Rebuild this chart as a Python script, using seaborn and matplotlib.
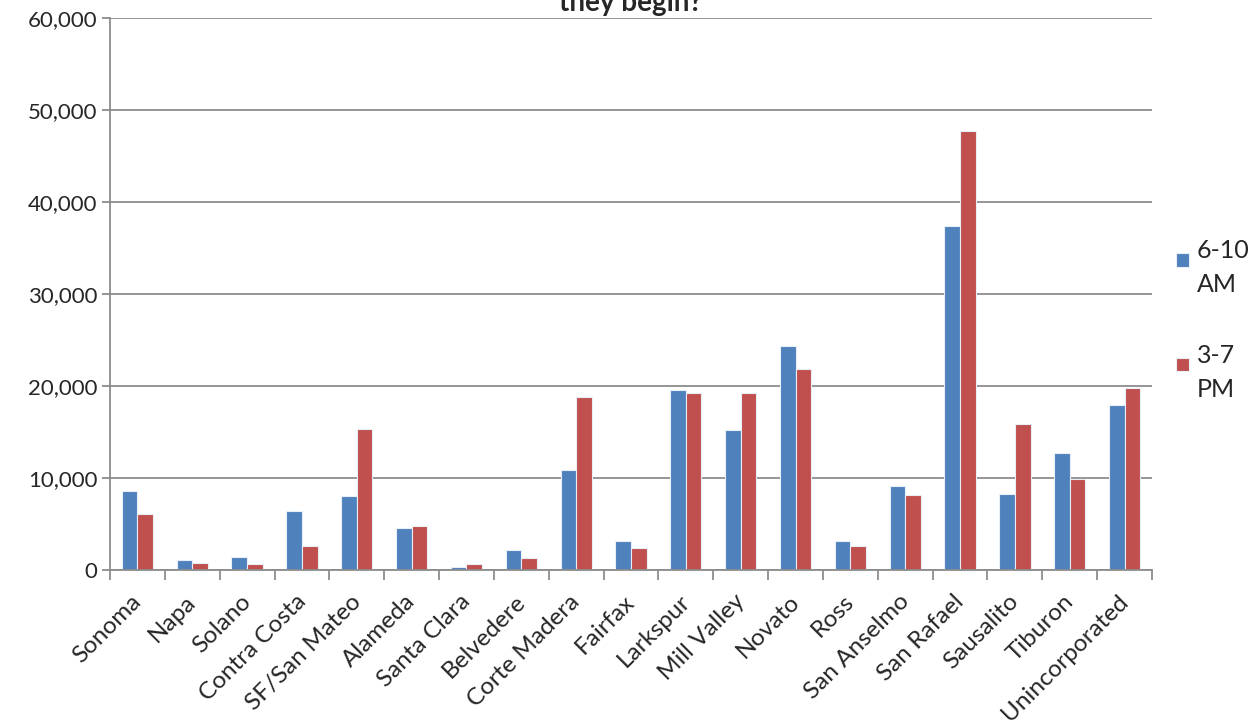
import matplotlib
matplotlib.use("Agg")
import matplotlib.pyplot as plt
import matplotlib.transforms as mtransforms
import seaborn as sns
import pandas as pd
import numpy as np
from matplotlib.ticker import FuncFormatter, FixedLocator
from matplotlib.patches import Rectangle
from matplotlib.legend_handler import HandlerPatch

places = ['Sonoma', 'Napa', 'Solano', 'Contra Costa', 'SF/San Mateo', 'Alameda',
          'Santa Clara', 'Belvedere', 'Corte Madera', 'Fairfax', 'Larkspur',
          'Mill Valley', 'Novato', 'Ross', 'San Anselmo', 'San Rafael',
          'Sausalito', 'Tiburon', 'Unincorporated']
am_trips = [8600, 1100, 1450, 6400, 8000, 4600, 300, 2200, 10900, 3100, 19600,
            15200, 24300, 3200, 9100, 37400, 8300, 12700, 17900]
pm_trips = [6100, 800, 700, 2600, 15300, 4800, 600, 1300, 18800, 2400, 19200,
            19200, 21900, 2600, 8150, 47700, 15900, 9900, 19800]
periods = ['6-10\nAM', '3-7\nPM']

df = pd.DataFrame({
    'place': places * 2,
    'trips': am_trips + pm_trips,
    'period': [periods[0]] * len(places) + [periods[1]] * len(places),
})

sns.set_style('white')
plt.rcParams['font.family'] = ['Lato', 'DejaVu Sans']

fig = plt.figure(figsize=(12.6, 7.24), dpi=100)
ax = fig.add_axes([110 / 1260, 1 - 570 / 724, 1042 / 1260, 552 / 724])

sns.barplot(data=df, x='place', y='trips', hue='period', order=places,
            hue_order=periods, palette=['#4F81BD', '#C0504D'], saturation=1,
            width=0.57, edgecolor='#e8eef5', linewidth=0.8, ax=ax, legend=True)

ax.set_ylim(0, 60000)
ax.set_xlim(-0.5, len(places) - 0.5)
ax.set_yticks(np.arange(0, 60001, 10000))
ax.yaxis.set_major_formatter(FuncFormatter(lambda v, p: f'{int(v):,}'))
ax.grid(axis='y', color='#8c8c8c', linewidth=1.3)
ax.set_axisbelow(True)
ax.set_xlabel('')
ax.set_ylabel('')

for side in ['top', 'right']:
    ax.spines[side].set_visible(False)
for side in ['left', 'bottom']:
    ax.spines[side].set_color('#8c8c8c')
    ax.spines[side].set_linewidth(1.3)

ax.tick_params(axis='y', labelsize=16, length=6, color='#8c8c8c', width=1.3,
               left=True, pad=3)
ax.xaxis.set_minor_locator(FixedLocator(np.arange(-0.5, len(places), 1)))
ax.tick_params(axis='x', which='major', length=0, labelsize=17.5, pad=15)
ax.tick_params(axis='x', which='minor', length=7, color='#8c8c8c', width=1.3,
               bottom=True)
shift = mtransforms.ScaledTranslation(-7 / 100, 0, fig.dpi_scale_trans)
for lbl in ax.get_xticklabels():
    lbl.set_rotation(45)
    lbl.set_ha('right')
    lbl.set_rotation_mode('anchor')
    lbl.set_transform(lbl.get_transform() + shift)


def top_square(legend, orig_handle, xdescent, ydescent, width, height, fontsize):
    s = 0.55 * fontsize
    return Rectangle((-xdescent, -ydescent + height - s - 0.3 * fontsize), s, s)


handles, labels = ax.get_legend_handles_labels()
ax.legend_.remove()
leg = fig.legend(handles, labels, loc='center left',
                 bbox_to_anchor=(1158 / 1260, 1 - 320 / 724),
                 frameon=False, fontsize=18, handlelength=0.55, handleheight=2.6,
                 handletextpad=0.3, labelspacing=1.9, borderpad=0.2,
                 handler_map={matplotlib.patches.Rectangle: HandlerPatch(patch_func=top_square)})
for t in leg.get_texts():
    t.set_linespacing(1.6)

fig.text(631 / 1260, 1 - 11 / 724, 'they begin?', ha='center', va='baseline',
         fontsize=20, fontweight='bold')

fig.savefig('out.png', dpi=100)
